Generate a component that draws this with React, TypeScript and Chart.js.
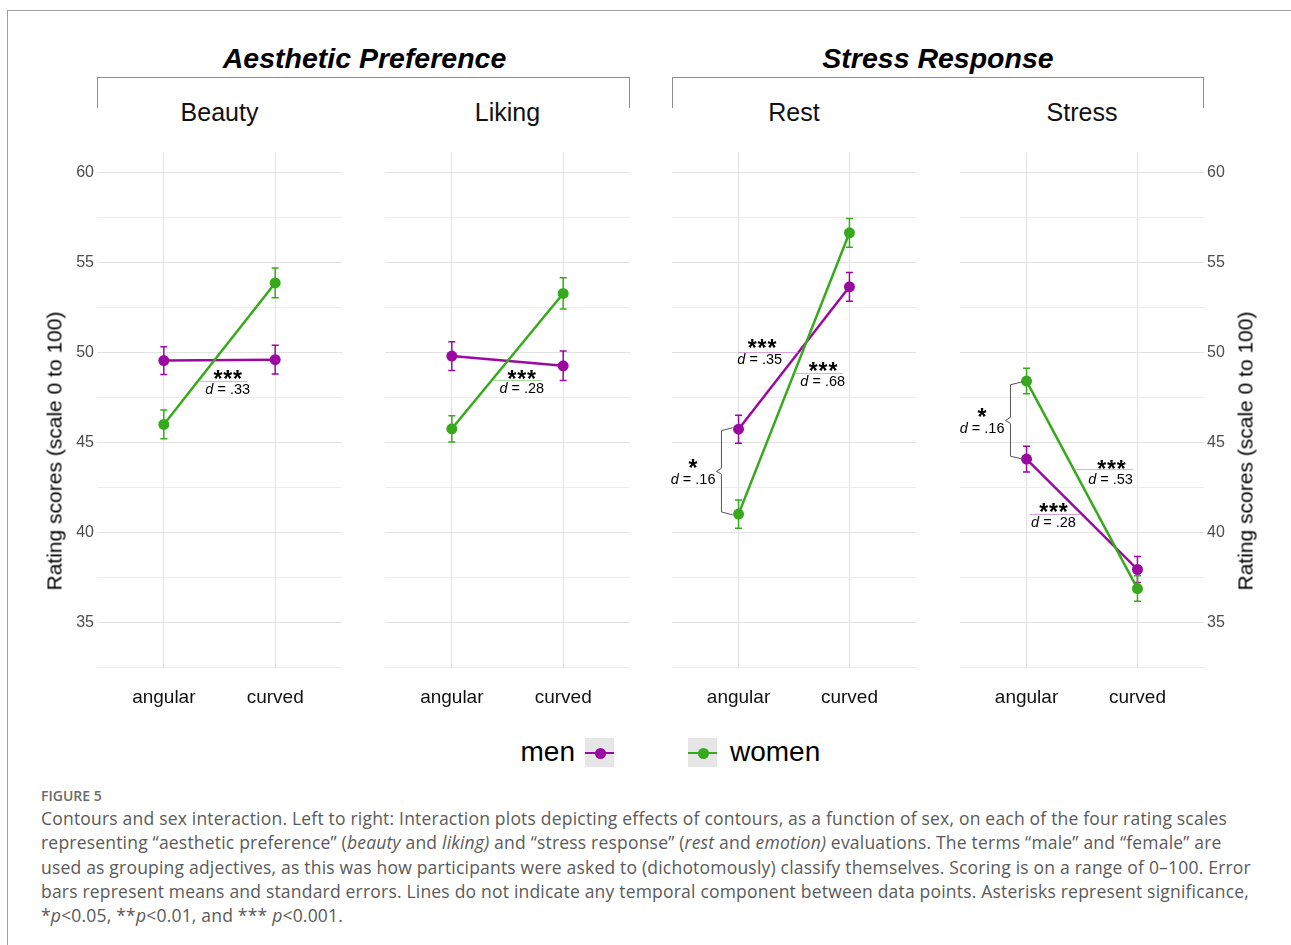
import React, { useEffect, useRef } from 'react';
import { Chart, registerables } from 'chart.js';

Chart.register(...registerables);

// ---------- data ----------
const groupTitles = ['Aesthetic Preference', 'Stress Response'];
const panelNames = ['Beauty', 'Liking', 'Rest', 'Stress'];
const conditions = ['angular', 'curved'];
const sexes = ['men', 'women'];
const yTickValues = [32.5, 35, 37.5, 40, 42.5, 45, 47.5, 50, 52.5, 55, 57.5, 60];
const yAxisTitle = 'Rating scores (scale 0 to 100)';

const menMeans = [
  [49.55, 49.6],
  [49.78, 49.24],
  [45.72, 53.63],
  [44.07, 37.93],
];
const menSE = [
  [0.77, 0.8],
  [0.8, 0.82],
  [0.78, 0.8],
  [0.72, 0.72],
];
const womenMeans = [
  [46.0, 53.87],
  [45.74, 53.26],
  [41.0, 56.63],
  [48.41, 36.87],
];
const womenSE = [
  [0.8, 0.83],
  [0.73, 0.87],
  [0.79, 0.8],
  [0.71, 0.71],
];

// significance annotations: [panel, x, y, text]
const starLabels: [number, number, number, string][] = [
  [0, 1.574, 48.81, '***'],
  [1, 1.628, 48.81, '***'],
  [2, 1.212, 50.48, '***'],
  [2, 1.762, 49.24, '***'],
  [2, 0.59, 43.82, '*'],
  [3, 0.599, 46.68, '*'],
  [3, 1.766, 43.78, '***'],
  [3, 1.243, 41.41, '***'],
];
// effect sizes: [panel, x, y, value]
const effectLabels: [number, number, number, string][] = [
  [0, 1.574, 47.89, '.33'],
  [1, 1.628, 47.93, '.28'],
  [2, 1.191, 49.56, '.35'],
  [2, 1.759, 48.32, '.68'],
  [2, 0.59, 42.89, '.16'],
  [3, 0.599, 45.76, '.16'],
  [3, 1.757, 42.93, '.53'],
  [3, 1.243, 40.52, '.28'],
];
// reference lines under labels: [panel, x1, x2, y, group]
const refLines: [number, number, number, number, string][] = [
  [0, 1.325, 1.747, 48.43, 'women'],
  [1, 1.373, 1.808, 48.43, 'women'],
  [2, 0.995, 1.534, 50.02, 'men'],
  [2, 1.507, 1.94, 48.82, 'women'],
  [3, 1.435, 1.961, 43.5, 'women'],
  [3, 1.029, 1.48, 41.0, 'men'],
];
// braces between groups: [panel, xLine, xEnd, xTip, yTop, yBottom]
const braces: [number, number, number, number, number, number][] = [
  [2, 0.846, 0.948, 0.8, 45.72, 41.04],
  [3, 0.855, 0.966, 0.81, 48.29, 44.15],
];

// ---------- styles ----------
const FONT = '"Liberation Sans", Arial, Helvetica, sans-serif';
const colors: Record<string, string> = { men: '#9b0aa0', women: '#36aa1c' };
const lightColors: Record<string, string> = { men: '#d7a2da', women: '#a9d99b' };

const panelLayout = [
  { left: 30, width: 322, padL: 0, padR: 10, yWidth: 67, yPos: 'left', showY: true },
  { left: 375, width: 265, padL: 10, padR: 10, yWidth: 0, yPos: 'left', showY: false },
  { left: 662, width: 264, padL: 10, padR: 10, yWidth: 0, yPos: 'left', showY: false },
  { left: 950, width: 304, padL: 10, padR: 0, yWidth: 50, yPos: 'right', showY: true },
];
const CANVAS_TOP = 140;
const CANVAS_H = 578;

const errorBarPlugin = {
  id: 'errorBars',
  beforeDatasetsDraw(chart: any) {
    const ctx = chart.ctx;
    const ys = chart.scales.y;
    chart.data.datasets.forEach((ds: any, di: number) => {
      const meta = chart.getDatasetMeta(di);
      ctx.save();
      ctx.strokeStyle = ds.borderColor;
      ctx.lineWidth = 1.5;
      meta.data.forEach((pt: any, j: number) => {
        const v = ds.data[j].y;
        const se = ds.se[j];
        const y1 = ys.getPixelForValue(v + se);
        const y2 = ys.getPixelForValue(v - se);
        const x = pt.x;
        ctx.beginPath();
        ctx.moveTo(x, y1);
        ctx.lineTo(x, y2);
        ctx.moveTo(x - 3.5, y1);
        ctx.lineTo(x + 3.5, y1);
        ctx.moveTo(x - 3.5, y2);
        ctx.lineTo(x + 3.5, y2);
        ctx.stroke();
      });
      ctx.restore();
    });
  },
};

function makeAnnotationPlugin(panel: number) {
  return {
    id: 'sigAnnotations',
    afterDatasetsDraw(chart: any) {
      const ctx = chart.ctx;
      const xs = chart.scales.x;
      const ys = chart.scales.y;
      ctx.save();
      // reference lines
      refLines
        .filter((r) => r[0] === panel)
        .forEach(([, x1, x2, y, g]) => {
          ctx.strokeStyle = lightColors[g];
          ctx.lineWidth = 1;
          const py = Math.round(ys.getPixelForValue(y)) + 0.5;
          ctx.beginPath();
          ctx.moveTo(xs.getPixelForValue(x1), py);
          ctx.lineTo(xs.getPixelForValue(x2), py);
          ctx.stroke();
        });
      // braces
      braces
        .filter((b) => b[0] === panel)
        .forEach(([, xl, xe, xt, yt, yb]) => {
          const pxl = xs.getPixelForValue(xl);
          const pxe = xs.getPixelForValue(xe);
          const pxt = xs.getPixelForValue(xt);
          const pyt = ys.getPixelForValue(yt);
          const pyb = ys.getPixelForValue(yb);
          const pym = (pyt + pyb) / 2;
          ctx.strokeStyle = '#555';
          ctx.lineWidth = 1;
          ctx.beginPath();
          ctx.moveTo(pxe, pyt - 1.5);
          ctx.lineTo(pxl, pyt + 1.5);
          ctx.lineTo(pxl, pym - 3);
          ctx.lineTo(pxt, pym);
          ctx.lineTo(pxl, pym + 3);
          ctx.lineTo(pxl, pyb - 1.5);
          ctx.lineTo(pxe, pyb + 1.5);
          ctx.stroke();
        });
      // stars
      ctx.fillStyle = '#000';
      ctx.textAlign = 'center';
      ctx.textBaseline = 'alphabetic';
      ctx.font = `bold 23px ${FONT}`;
      starLabels
        .filter((s) => s[0] === panel)
        .forEach(([, x, y, text]) => {
          const px = xs.getPixelForValue(x);
          const py = ys.getPixelForValue(y) + 13;
          const n = text.length;
          for (let k = 0; k < n; k++) {
            ctx.fillText('*', px + (k - (n - 1) / 2) * 9.8, py);
          }
        });
      // effect sizes
      ctx.textBaseline = 'middle';
      effectLabels
        .filter((e) => e[0] === panel)
        .forEach(([, x, y, val]) => {
          const px = xs.getPixelForValue(x);
          const py = ys.getPixelForValue(y);
          ctx.font = `italic 14.5px ${FONT}`;
          const wd = ctx.measureText('d').width;
          ctx.font = `14.5px ${FONT}`;
          const rest = ' = ' + val;
          const wr = ctx.measureText(rest).width;
          const start = px - (wd + wr) / 2;
          ctx.textAlign = 'left';
          ctx.font = `italic 14.5px ${FONT}`;
          ctx.fillText('d', start, py);
          ctx.font = `14.5px ${FONT}`;
          ctx.fillText(rest, start + wd, py);
        });
      ctx.restore();
    },
  };
}

function buildChart(canvas: HTMLCanvasElement, i: number) {
  const L = panelLayout[i];
  const gridColor = (c: any) =>
    c.tick && c.tick.value % 5 === 0 ? '#e2e2e2' : '#ededed';
  return new Chart(canvas, {
    type: 'line',
    data: {
      datasets: sexes.map((s) => {
        const means = s === 'men' ? menMeans[i] : womenMeans[i];
        const se = s === 'men' ? menSE[i] : womenSE[i];
        return {
          label: s,
          data: conditions.map((_, j) => ({ x: j + 1, y: means[j] })),
          se,
          borderColor: colors[s],
          backgroundColor: colors[s],
          borderWidth: 2.5,
          pointRadius: 5.5,
          pointBorderWidth: 0,
          pointBackgroundColor: colors[s],
          tension: 0,
          order: s === 'men' ? 2 : 1,
        } as any;
      }),
    },
    options: {
      responsive: false,
      animation: false,
      events: [],
      layout: { padding: { left: L.padL, right: L.padR, top: 12, bottom: 0 } },
      plugins: {
        legend: { display: false },
        tooltip: { enabled: false },
        title: { display: false },
      },
      scales: {
        x: {
          type: 'linear',
          min: 0.4,
          max: 2.6,
          afterBuildTicks: (s: any) => {
            s.ticks = conditions.map((_, j) => ({ value: j + 1 }));
          },
          afterFit: (s: any) => {
            s.height = 50;
          },
          grid: { color: '#e2e2e2', lineWidth: 1, drawTicks: false },
          border: { display: false },
          ticks: {
            callback: (v: any) => conditions[Math.round(v) - 1] ?? '',
            font: { family: FONT, size: 19 },
            color: '#111',
            padding: 18,
            autoSkip: false,
            maxRotation: 0,
          },
        },
        y: {
          type: 'linear',
          position: L.yPos as any,
          min: 32.45,
          max: 61.12,
          afterBuildTicks: (s: any) => {
            s.ticks = yTickValues.map((v) => ({ value: v }));
          },
          afterFit: (s: any) => {
            s.width = L.yWidth;
          },
          grid: { color: gridColor, lineWidth: 1, drawTicks: false },
          border: { display: false },
          ticks: {
            display: L.showY,
            callback: (v: any) => (v % 5 === 0 ? String(v) : ''),
            font: { family: FONT, size: 16 },
            color: '#4d4d4d',
            padding: 3,
            autoSkip: false,
          },
        },
      },
    } as any,
    plugins: [errorBarPlugin, makeAnnotationPlugin(i)],
  });
}

const abs = (o: React.CSSProperties): React.CSSProperties => ({ position: 'absolute', ...o });

function Centered({ x, y, style, children }: any) {
  return (
    <div
      style={abs({
        left: x,
        top: y,
        transform: 'translate(-50%, -50%)',
        whiteSpace: 'nowrap',
        fontFamily: FONT,
        lineHeight: 1,
        ...style,
      })}
    >
      {children}
    </div>
  );
}

function LegendKey({ x, color }: { x: number; color: string }) {
  return (
    <div style={abs({ left: x, top: 738, width: 29, height: 29, background: '#e6e6e6' })}>
      <div style={abs({ left: 0, top: 14, width: 29, height: 2, background: color })} />
      <div
        style={abs({ left: 9.5, top: 9.5, width: 11, height: 11, borderRadius: '50%', background: color })}
      />
    </div>
  );
}

export default function App() {
  const refs = [
    useRef<HTMLCanvasElement>(null),
    useRef<HTMLCanvasElement>(null),
    useRef<HTMLCanvasElement>(null),
    useRef<HTMLCanvasElement>(null),
  ];
  useEffect(() => {
    const charts = refs.map((r, i) => buildChart(r.current as HTMLCanvasElement, i));
    return () => charts.forEach((c) => c.destroy());
  }, []);

  const groupCenters = [364.5, 938];
  const bracketSpans = [
    [97, 630],
    [672, 1204],
  ];
  const stripCenters = [219.5, 507.5, 794, 1082];
  const capFont = '"Open Sans", Lato, sans-serif';

  return (
    <div
      style={abs({ left: 0, top: 0, width: 1291, height: 945, overflow: 'hidden', background: '#fff' })}
    >
      <div
        style={abs({
          left: 7,
          top: 10,
          width: 1400,
          height: 1000,
          borderTop: '1px solid #a0a0a0',
          borderLeft: '1px solid #a0a0a0',
        })}
      />
      {groupTitles.map((t, g) => (
        <Centered
          key={t}
          x={groupCenters[g]}
          y={58}
          style={{ fontSize: 28.5, fontWeight: 'bold', fontStyle: 'italic', color: '#000' }}
        >
          {t}
        </Centered>
      ))}
      {bracketSpans.map(([a, b], g) => (
        <div
          key={g}
          style={abs({
            left: a,
            top: 77,
            width: b - a,
            height: 31,
            borderTop: '1px solid #8c8c8c',
            borderLeft: '1px solid #8c8c8c',
            borderRight: '1px solid #8c8c8c',
            boxSizing: 'border-box',
          })}
        />
      ))}
      {panelNames.map((n, i) => (
        <Centered key={n} x={stripCenters[i]} y={112} style={{ fontSize: 25, color: '#111' }}>
          {n}
        </Centered>
      ))}
      {panelLayout.map((L, i) => (
        <canvas
          key={i}
          ref={refs[i]}
          width={L.width}
          height={CANVAS_H}
          style={abs({ left: L.left, top: CANVAS_TOP, width: L.width, height: CANVAS_H })}
        />
      ))}
      {[54, 1245].map((x) => (
        <div
          key={x}
          style={abs({
            left: x,
            top: 451,
            transform: 'translate(-50%, -50%) rotate(-90deg)',
            whiteSpace: 'nowrap',
            fontFamily: FONT,
            fontSize: 21,
            lineHeight: 1,
            color: '#000',
          })}
        >
          {yAxisTitle}
        </div>
      ))}
      {/* legend */}
      <div
        style={abs({ right: 1291 - 575, top: 752, transform: 'translateY(-50%)', fontFamily: FONT, fontSize: 28, lineHeight: 1, color: '#000' })}
      >
        {sexes[0]}
      </div>
      <LegendKey x={585} color={colors.men} />
      <LegendKey x={688} color={colors.women} />
      <div
        style={abs({ left: 730, top: 752, transform: 'translateY(-50%)', fontFamily: FONT, fontSize: 28, lineHeight: 1, color: '#000' })}
      >
        {sexes[1]}
      </div>
      {/* caption */}
      <div
        style={abs({ left: 41, top: 786, fontFamily: capFont, fontSize: 14, fontWeight: 600, color: '#6a6a6a', lineHeight: '20px' })}
      >
        FIGURE 5
      </div>
      <div
        style={abs({ left: 41, top: 806, fontFamily: capFont, fontSize: 17.5, letterSpacing: '0.2px', color: '#5a5a5a', lineHeight: '24.3px', whiteSpace: 'nowrap' })}
      >
        Contours and sex interaction. Left to right: Interaction plots depicting effects of contours, as a function of sex, on each of the four rating scales
        <br />
        representing “aesthetic preference” (<i>beauty</i> and <i>liking)</i> and “stress response” (<i>rest</i> and <i>emotion)</i> evaluations. The terms “male” and “female” are
        <br />
        used as grouping adjectives, as this was how participants were asked to (dichotomously) classify themselves. Scoring is on a range of 0–100. Error
        <br />
        bars represent means and standard errors. Lines do not indicate any temporal component between data points. Asterisks represent significance,
        <br />
        *<i>p</i>&lt;0.05, **<i>p</i>&lt;0.01, and *** <i>p</i>&lt;0.001.
      </div>
    </div>
  );
}
